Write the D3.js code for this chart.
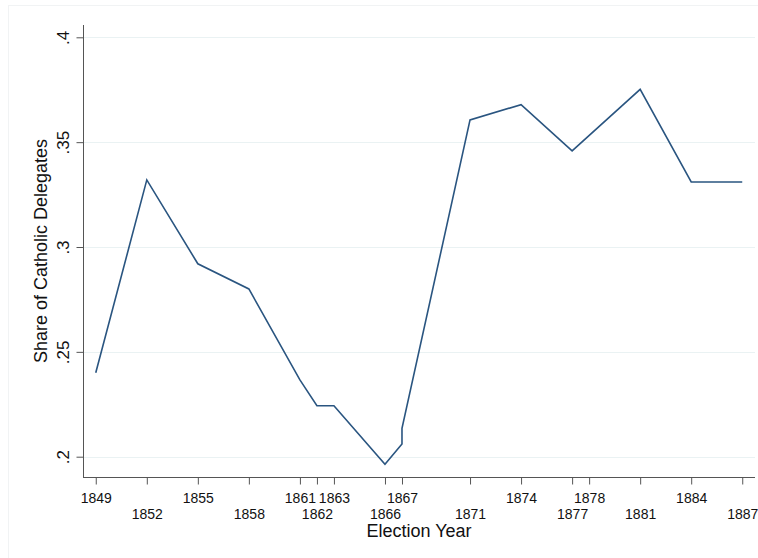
<!DOCTYPE html>
<html>
<head>
<meta charset="utf-8">
<script src="https://cdn.jsdelivr.net/npm/d3@7"></script>
<style>
  html, body { margin: 0; padding: 0; background: #ffffff; }
  svg { display: block; font-family: "Liberation Sans", Arial, sans-serif; }
</style>
</head>
<body>
<svg id="chart" width="758" height="558"></svg>
<script>
// ---- data ----
const years = [1849, 1852, 1855, 1858, 1861, 1862, 1863, 1866, 1867, 1867, 1871, 1874, 1877, 1881, 1884, 1887];
const shares = [0.240, 0.332, 0.292, 0.280, 0.2366, 0.2243, 0.2243, 0.1964, 0.2061, 0.2135, 0.3606, 0.3679, 0.3458, 0.3752, 0.3310, 0.3310];
const xTicks = [1849, 1852, 1855, 1858, 1861, 1862, 1863, 1866, 1867, 1871, 1874, 1877, 1878, 1881, 1884, 1887];
const xTicksUpper = [1849, 1855, 1861, 1863, 1867, 1874, 1878, 1884];
const yTicks = [0.2, 0.25, 0.3, 0.35, 0.4];
const yTickLabels = [".2", ".25", ".3", ".35", ".4"];
const xTitle = "Election Year";
const yTitle = "Share of Catholic Delegates";

// ---- layout ----
const svg = d3.select("#chart");
const pLeft = 83, pRight = 755, pTop = 25, pBottom = 477;

// faint outer graph-region frame
svg.append("line").attr("x1", 8).attr("x2", 758).attr("y1", 5.5).attr("y2", 5.5)
  .attr("stroke", "#f1f3f4").attr("stroke-width", 1);
svg.append("line").attr("x1", 8.5).attr("x2", 8.5).attr("y1", 5).attr("y2", 558)
  .attr("stroke", "#f1f3f4").attr("stroke-width", 1);

const x = d3.scaleLinear().domain([1848.25, 1887.75]).range([pLeft, pRight]);
const y = d3.scaleLinear().domain([0.19032, 0.40587]).range([pBottom, pTop]);

// gridlines
svg.append("g").selectAll("line").data(yTicks).join("line")
  .attr("x1", pLeft).attr("x2", pRight)
  .attr("y1", d => Math.round(y(d)) + 0.5).attr("y2", d => Math.round(y(d)) + 0.5)
  .attr("stroke", "#eaf2f3").attr("stroke-width", 1);

// y axis
const yAxis = d3.axisLeft(y).tickValues(yTicks).tickSize(7).tickPadding(8)
  .tickFormat((d, i) => yTickLabels[i]);
const gy = svg.append("g").attr("transform", `translate(${pLeft + 0.5},0)`).call(yAxis);
gy.select(".domain").attr("stroke", "#555").attr("d", `M0,${pTop}V${pBottom}`);
gy.selectAll(".tick line").attr("stroke", "#555");
gy.selectAll(".tick text")
  .attr("font-size", 17).attr("fill", "#111")
  .attr("text-anchor", "middle")
  .attr("transform", "rotate(-90)")
  .attr("x", 0).attr("y", -15).attr("dy", 0);

// x axis
const xAxis = d3.axisBottom(x).tickValues(xTicks).tickSize(7).tickPadding(5).tickFormat(d3.format("d"));
const gx = svg.append("g").attr("transform", `translate(0,${pBottom + 0.5})`).call(xAxis);
gx.select(".domain").attr("stroke", "#555").attr("d", `M${pLeft},0H${pRight}`);
gx.selectAll(".tick line").attr("stroke", "#555");
gx.selectAll(".tick text")
  .attr("font-size", 14).attr("fill", "#111").attr("dy", 0)
  .attr("y", d => xTicksUpper.includes(d) ? 25 : 41);

// line
const line = d3.line().x((d, i) => x(years[i])).y(d => y(d));
svg.append("path").datum(shares)
  .attr("d", line)
  .attr("fill", "none")
  .attr("stroke", "#2a5580")
  .attr("stroke-width", 1.6)
  .attr("stroke-linejoin", "miter");

// titles
svg.append("text").attr("x", (pLeft + pRight) / 2).attr("y", 537)
  .attr("text-anchor", "middle").attr("font-size", 18).attr("fill", "#111").text(xTitle);
svg.append("text").attr("transform", `translate(47,${(pTop + pBottom) / 2}) rotate(-90)`)
  .attr("text-anchor", "middle").attr("font-size", 18).attr("fill", "#111").text(yTitle);
</script>
</body>
</html>
